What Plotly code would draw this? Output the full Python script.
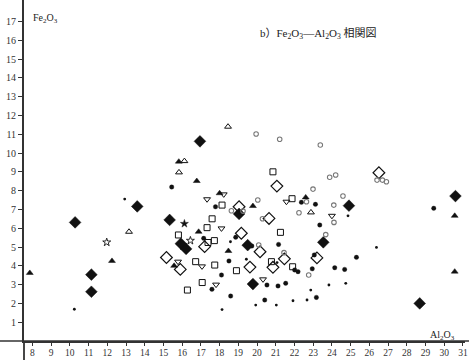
import plotly.graph_objects as go

# ---- data (Al2O3, Fe2O3) grouped by marker type ----
filled_diamond_x = [10.28, 11.15, 11.15, 13.6, 16.95, 15.33, 15.93, 16.21, 19.04, 19.5, 19.78, 23.54, 24.91, 28.69, 30.6]
filled_diamond_y = [6.31, 3.53, 2.62, 7.16, 10.62, 6.44, 5.18, 4.9, 6.76, 5.1, 3.03, 5.25, 7.2, 2.0, 7.71]

open_diamond_x = [21.06, 19.04, 20.64, 17.2, 15.16, 15.9, 19.16, 20.16, 19.62, 20.85, 21.46, 26.51, 23.2]
open_diamond_y = [8.24, 7.14, 6.52, 5.02, 4.44, 3.81, 5.73, 4.75, 3.93, 3.92, 4.37, 8.95, 4.42]

filled_tri_x = [7.86, 12.25, 15.82, 16.78, 18.0, 19.78, 22.6, 15.57, 18.47, 30.56, 30.56, 16.88]
filled_tri_y = [3.62, 4.26, 9.54, 8.51, 7.86, 7.18, 7.64, 4.0, 4.79, 6.66, 3.69, 5.81]

open_tri_x = [13.16, 18.45, 16.12, 15.83, 22.88]
open_tri_y = [5.81, 11.4, 9.57, 8.97, 6.84]

open_tri_down_x = [18.22, 17.33, 21.57, 18.1, 15.78, 17.06, 17.81, 20.32, 24.0]
open_tri_down_y = [7.8, 7.54, 7.41, 5.99, 4.22, 3.97, 3.0, 3.28, 6.66]

filled_circle_x = [15.44, 17.78, 22.37, 23.12, 23.35, 17.15, 18.86, 19.72, 21.15, 18.5, 18.1, 17.59, 18.59,
                   22.01, 22.19, 22.95, 23.06, 24.15, 24.68, 25.31, 20.53, 21.12, 21.53, 20.41, 23.17, 29.44]
filled_circle_y = [8.19, 7.14, 7.38, 7.27, 6.17, 5.46, 5.52, 5.05, 5.14, 4.26, 3.51, 2.75, 2.39,
                   3.78, 3.69, 3.84, 4.58, 3.9, 3.81, 4.45, 2.98, 2.93, 3.07, 2.18, 2.32, 7.06]

small_dot_x = [10.24, 12.93, 18.58, 18.13, 19.43, 21.07, 19.93, 21.03, 21.92, 22.67, 22.87, 23.84, 24.74, 26.38, 24.86]
small_dot_y = [1.69, 7.55, 5.28, 1.67, 4.35, 4.17, 1.91, 1.91, 2.14, 2.18, 2.71, 2.98, 3.07, 4.98, 6.66]

open_square_x = [17.6, 18.13, 17.33, 15.8, 17.38, 17.72, 16.72, 17.74, 18.9, 17.07, 16.28, 21.25, 20.77, 21.9, 20.85, 21.87]
open_square_y = [6.5, 7.23, 6.03, 5.64, 5.24, 5.34, 4.22, 4.04, 3.74, 3.11, 2.71, 5.78, 4.22, 3.95, 9.0, 7.57]

ring_x = [19.95, 21.21, 23.38, 22.99, 23.88, 24.2, 24.59, 24.1, 22.64, 22.24, 18.63, 19.25, 20.04, 20.29,
          20.09, 21.44, 22.76, 23.67, 26.41, 26.7, 26.91, 24.11]
ring_y = [11.01, 10.73, 10.43, 8.08, 8.71, 8.83, 7.71, 7.23, 7.41, 6.82, 6.93, 6.91, 7.5, 6.5,
          5.11, 4.7, 3.51, 5.66, 8.56, 8.56, 8.47, 6.31]

open_star_x = [11.97, 16.44]
open_star_y = [5.25, 5.34]

filled_star_x = [16.12]
filled_star_y = [6.24]

x_ticks = list(range(8, 32))
y_ticks = list(range(1, 18))

# ---- figure ----
fig = go.Figure()

def add(xs, ys, symbol, size, color="#111", lw=1.2):
    fig.add_trace(go.Scatter(
        x=xs, y=ys, mode="markers",
        marker=dict(symbol=symbol, size=size, color=color, line=dict(color=color, width=lw)),
        showlegend=False, hoverinfo="x+y"))

add(filled_diamond_x, filled_diamond_y, "diamond", 9, lw=0.5)
add(open_diamond_x, open_diamond_y, "diamond-open", 9, lw=1.2)
add(filled_tri_x, filled_tri_y, "triangle-up", 6, lw=0.5)
add(open_tri_x, open_tri_y, "triangle-up-open", 6, lw=1.0)
add(open_tri_down_x, open_tri_down_y, "triangle-down-open", 6, lw=1.0)
add(filled_circle_x, filled_circle_y, "circle", 4.5, lw=0.3)
add(small_dot_x, small_dot_y, "circle", 2.8, lw=0)
add(open_square_x, open_square_y, "square-open", 6, lw=1.0)
add(ring_x, ring_y, "circle-open", 4.5, color="#777", lw=1.1)
add(open_star_x, open_star_y, "star-open", 6, lw=0.9)
add(filled_star_x, filled_star_y, "star", 6, lw=0.5)

axis_font = dict(family="Liberation Serif, DejaVu Serif, serif", size=10, color="#333")
x_font = dict(family="Liberation Serif, DejaVu Serif, serif", size=9.5, color="#333")

PW = 441  # plot width in px
fig.update_layout(
    width=469, height=360,
    margin=dict(l=24, r=4, t=0, b=19),
    paper_bgcolor="white", plot_bgcolor="white",
    xaxis=dict(range=[7.55, 31.11], tickvals=x_ticks, ticktext=[str(v) for v in x_ticks],
               showgrid=False, zeroline=False, showline=True, linecolor="#333", linewidth=1.5,
               ticks="outside", ticklen=3, tickcolor="#333", tickfont=x_font,
               ticklabelstandoff=-1),
    yaxis=dict(range=[0, 18.14], tickvals=y_ticks, ticktext=[str(v) for v in y_ticks],
               showgrid=False, zeroline=False, showline=True, linecolor="#333", linewidth=1.8,
               ticks="outside", ticklen=4, tickcolor="#333", tickfont=axis_font),
)

# axis extensions (x-axis runs to both edges, y-axis below the x-axis)
fig.add_shape(type="line", xref="paper", yref="paper", x0=-24/PW, x1=1 + 4/PW, y0=0, y1=0,
              line=dict(color="#333", width=1.5))
fig.add_shape(type="line", xref="paper", yref="paper", x0=0, x1=0, y0=-19/341, y1=0,
              line=dict(color="#333", width=1.8))

fig.add_annotation(text="b）Fe<sub>2</sub>O<sub>3</sub>—Al<sub>2</sub>O<sub>3</sub> 相関図",
                   xref="paper", yref="paper", x=(318-24)/PW, y=0.927, showarrow=False,
                   font=dict(family="Liberation Serif, Noto Sans CJK JP", size=11, color="#222"))
fig.add_annotation(text="Fe<sub>2</sub>O<sub>3</sub>", xref="paper", yref="paper",
                   x=(31-24)/PW, y=(341-19)/341, xanchor="left", yanchor="middle", showarrow=False,
                   font=dict(family="Liberation Serif", size=10, color="#222"))
fig.add_annotation(text="Al<sub>2</sub>O<sub>3</sub>", xref="paper", yref="paper",
                   x=(428-24)/PW, y=(341-335)/341, xanchor="left", yanchor="middle", showarrow=False,
                   font=dict(family="Liberation Serif", size=10, color="#222"))

fig.write_html("out.html", config={"displayModeBar": False},
               post_script="document.body.style.margin='0';")
